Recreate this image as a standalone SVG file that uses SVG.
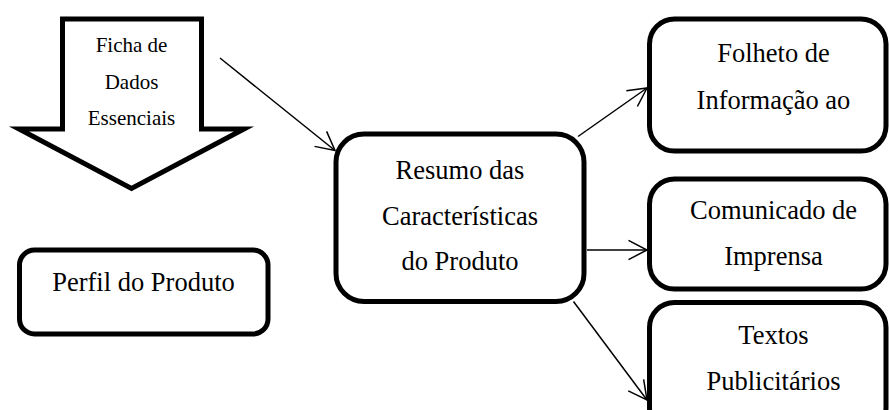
<svg xmlns="http://www.w3.org/2000/svg" width="889" height="410" viewBox="0 0 889 410">
<style>
.box{fill:#fff;stroke:#000;stroke-width:5}
.t{font-family:"Liberation Serif","Times New Roman",serif;font-size:26.5px;fill:#000;text-anchor:middle}
.s{font-family:"Liberation Serif","Times New Roman",serif;font-size:21px;fill:#000;text-anchor:middle}
.c{fill:none;stroke:#000;stroke-width:1.5}
</style>
<defs>
<marker id="arr" markerUnits="userSpaceOnUse" orient="auto" refX="0" refY="0" markerWidth="30" markerHeight="30" viewBox="-25 -15 30 30" overflow="visible">
<path d="M-18.5,-9.6 L0,0 L-18.5,9.6" fill="none" stroke="#000" stroke-width="1.5"/>
</marker>
</defs>
<rect width="889" height="410" fill="#fff"/>
<g id="ficha">
<polygon class="box" stroke-miterlimit="10" points="62.5,19 201.5,19 201.5,129 244,129 131.5,188.5 19,129 62.5,129"/>
<text class="s" x="131.5" y="52">Ficha de</text>
<text class="s" x="131.5" y="88.5">Dados</text>
<text class="s" x="131.5" y="125">Essenciais</text>
</g>
<g id="perfil">
<rect class="box" x="19.5" y="250" width="248.5" height="84" rx="15"/>
<text class="t" x="143.5" y="291">Perfil do Produto</text>
</g>
<g id="resumo">
<rect class="box" x="336" y="134" width="248" height="167.5" rx="28"/>
<text class="t" x="460" y="179">Resumo das</text>
<text class="t" x="460" y="224.5">Características</text>
<text class="t" x="460" y="270">do Produto</text>
</g>
<g id="folheto">
<rect class="box" x="649.5" y="19" width="236.5" height="132" rx="25"/>
<text class="t" x="773.5" y="62">Folheto de</text>
<text class="t" x="773.5" y="108.5">Informação ao</text>
</g>
<g id="comunicado">
<rect class="box" x="649.5" y="179" width="236.5" height="110" rx="25"/>
<text class="t" x="773.5" y="218.5">Comunicado de</text>
<text class="t" x="773.5" y="265">Imprensa</text>
</g>
<g id="textos">
<rect class="box" x="649.5" y="302.5" width="236.5" height="130" rx="25"/>
<text class="t" x="773.5" y="344">Textos</text>
<text class="t" x="773.5" y="390">Publicitários</text>
</g>
<g id="connectors">
<line class="c" x1="220" y1="58" x2="335" y2="150.5" marker-end="url(#arr)"/>
<line class="c" x1="578" y1="136.5" x2="647" y2="88" marker-end="url(#arr)"/>
<line class="c" x1="587" y1="250" x2="647" y2="250" marker-end="url(#arr)"/>
<line class="c" x1="573.5" y1="301.5" x2="647" y2="400" marker-end="url(#arr)"/>
</g>
</svg>
